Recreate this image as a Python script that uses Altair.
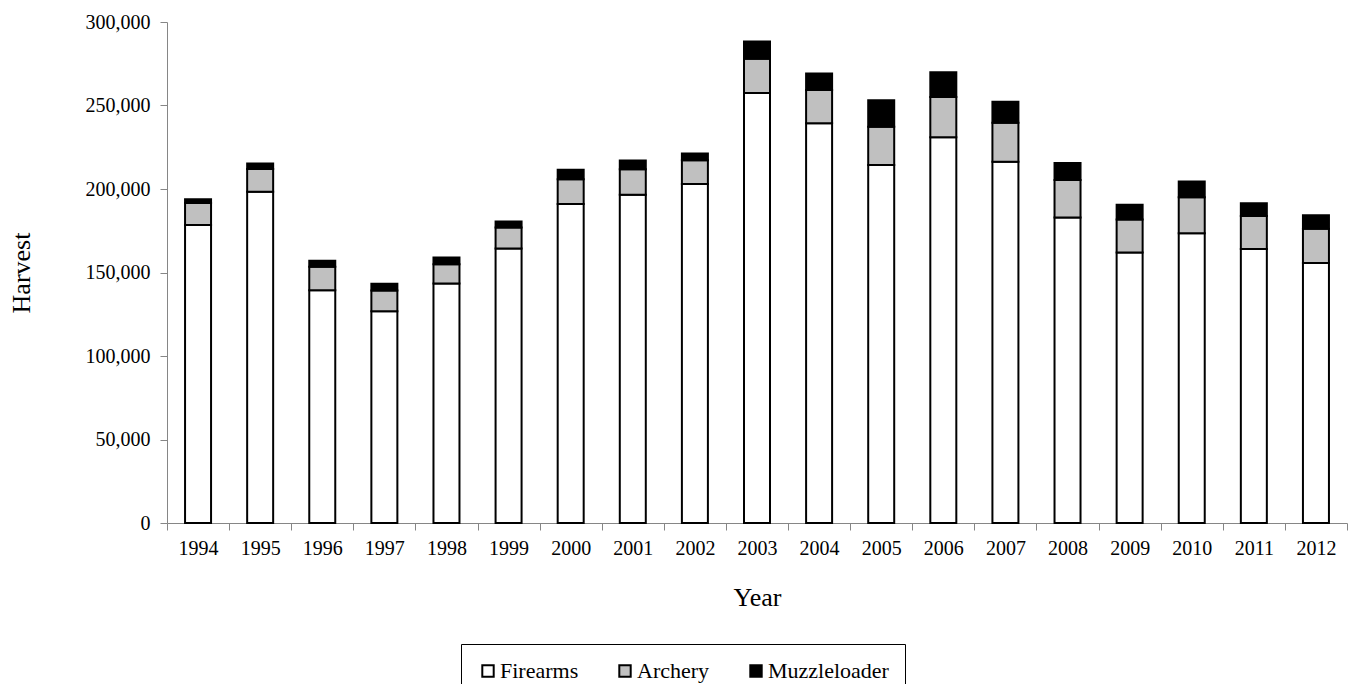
import altair as alt
import pandas as pd

years = [str(y) for y in range(1994, 2013)]
firearms = [178400, 198400, 139400, 126800, 143400, 164400, 191000, 196600, 203000,
            257500, 239300, 214400, 231000, 216300, 183000, 162000, 173500, 164000, 155700]
archery = [13200, 13600, 14000, 12400, 11600, 12600, 14800, 15300, 14200,
           20500, 20000, 22900, 24100, 23400, 22400, 19800, 21500, 19800, 20500]
muzzleloader = [2200, 3200, 3600, 4000, 4000, 3600, 5700, 5100, 4100,
                10300, 9800, 15900, 14800, 12500, 10100, 8700, 9500, 7700, 8100]
series = ["Firearms", "Archery", "Muzzleloader"]
colors = ["#ffffff", "#c0c0c0", "#000000"]

rows = []
for i, y in enumerate(years):
    for k, (name, vals) in enumerate(zip(series, [firearms, archery, muzzleloader])):
        rows.append({"Year": y, "Method": name, "Harvest": vals[i], "ord": k})
df = pd.DataFrame(rows)

FONT = "Liberation Serif"

chart = alt.Chart(df).mark_bar(size=26, stroke="black", strokeWidth=2).encode(
    x=alt.X("Year:O", sort=years,
            scale=alt.Scale(paddingInner=0, paddingOuter=0),
            axis=alt.Axis(title="Year", labelAngle=0, tickBand="extent",
                          labelFont=FONT, titleFont=FONT,
                          labelFontSize=20, titleFontSize=26, titleFontWeight="normal",
                          labelPadding=8, titlePadding=26, tickSize=7,
                          domainColor="#868686", tickColor="#868686",
                          labelColor="black", titleColor="black")),
    y=alt.Y("Harvest:Q", stack="zero",
            scale=alt.Scale(domain=[0, 300000], nice=False),
            axis=alt.Axis(title="Harvest", format=",.0f", values=[0, 50000, 100000, 150000, 200000, 250000, 300000],
                          labelFont=FONT, titleFont=FONT,
                          grid=False, labelFontSize=20, titleFontSize=26, titleFontWeight="normal",
                          labelPadding=10, titlePadding=51, tickSize=7,
                          domainColor="#868686", tickColor="#868686",
                          labelColor="black", titleColor="black")),
    color=alt.Color("Method:N", sort=series,
                    scale=alt.Scale(domain=series, range=colors),
                    legend=alt.Legend(title=None, orient="none", direction="horizontal",
                                      legendX=294, legendY=622, padding=16,
                                      strokeColor="black", fillColor="white",
                                      symbolType="square", symbolSize=130,
                                      symbolStrokeColor="black", symbolStrokeWidth=2,
                                      labelFontSize=22, labelFont=FONT, labelColor="black",
                                      labelOffset=1, columnPadding=35, labelLimit=300)),
    order=alt.Order("ord:Q", sort="ascending"),
).properties(
    width=1180, height=501,
    autosize=alt.AutoSizeParams(type="none"),
    padding={"left": 159, "top": 14, "right": 1, "bottom": 161},
).configure_view(stroke=None)

chart.save("out.html", embed_options={"renderer": "svg", "actions": False})
